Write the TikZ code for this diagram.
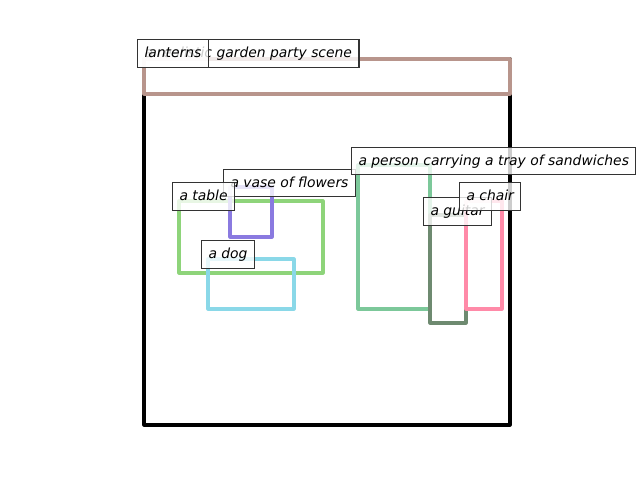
\documentclass[tikz,border=0pt]{standalone}
\usepackage{fontspec}
\setmainfont{DejaVu Sans}
\begin{document}
\begin{tikzpicture}[x=0.72pt,y=-0.72pt,
  objbox/.style={line width=2.2pt,line join=round},
  lbl/.style={anchor=west,draw=black!80,line width=0.8pt,fill=white,fill opacity=0.8,text opacity=1,
    font=\fontsize{10}{12}\selectfont\itshape,inner xsep=5pt,inner ysep=4.8pt,
    text height=8.2pt,text depth=1.8pt}]
\definecolor{cscene}{HTML}{B8958C}
\definecolor{ctable}{HTML}{8ED47A}
\definecolor{cvase}{HTML}{8A7AE0}
\definecolor{cdog}{HTML}{8AD8E8}
\definecolor{cperson}{HTML}{7CC89A}
\definecolor{cguitar}{HTML}{6E8A70}
\definecolor{cchair}{HTML}{FF8AA8}
\useasboundingbox (0,0) rectangle (640,480);
\draw[objbox,black] (144,59) rectangle (510,425);
\draw[objbox,cscene] (144,59) rectangle (510,94);
\draw[objbox,ctable] (179,201) rectangle (323,273);
\draw[objbox,cvase] (230,187) rectangle (272,237);
\draw[objbox,cdog] (208,259) rectangle (294,309);
\draw[objbox,cperson] (358,165) rectangle (430,309);
\draw[objbox,cguitar] (430,215) rectangle (466,323);
\draw[objbox,cchair] (466,201) rectangle (502,309);
\node[lbl] (scene) at (137,53.5) {a realistic garden party scene};
\node[lbl] (lanterns) at (137,53.5) {lanterns};
\node[lbl] (vase) at (223,183) {a vase of flowers};
\node[lbl] (table) at (172,196.5) {a table};
\node[lbl] (dog) at (201,254.5) {a dog};
\node[lbl] (person) at (351,161) {a person carrying a tray of sandwiches};
\node[lbl] (guitar) at (423,211.5) {a guitar};
\node[lbl] (chair) at (459,196.5) {a chair};
\end{tikzpicture}
\end{document}
